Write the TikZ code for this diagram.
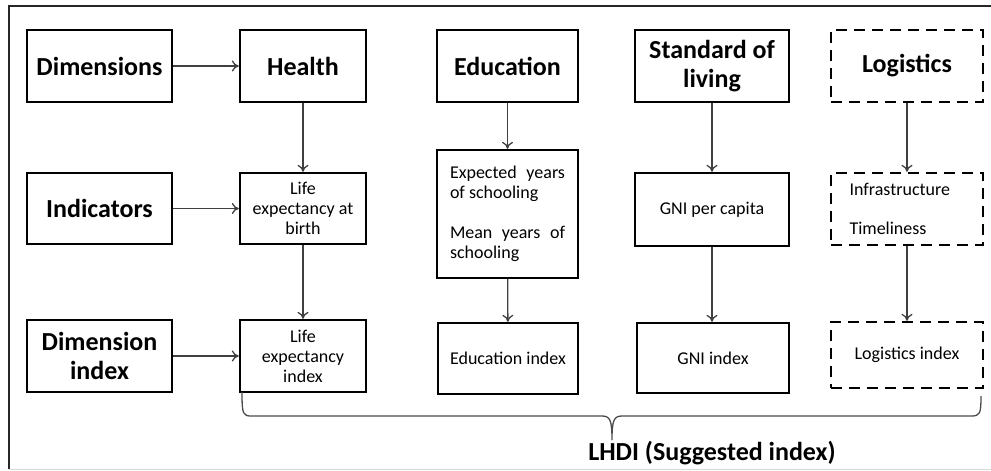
\documentclass[tikz,border=0pt]{standalone}
\usepackage{fontspec}
\setmainfont{Carlito}
\usetikzlibrary{arrows.meta, positioning}

\tikzset{
    head/.style={draw, line width=2.4pt, align=center, inner sep=2pt,
        font=\bfseries\fontsize{26}{28.6}\selectfont},
    cell/.style={draw, line width=2.4pt, align=center, inner sep=2pt,
        font=\fontsize{18}{20}\selectfont},
    dashbox/.style={dash pattern=on 11pt off 7pt},
    link/.style={->, line width=1.3pt, draw=black!75},
}

\begin{document}
\begin{tikzpicture}[x=1pt, y=-1pt, >={To[length=7pt, width=11pt]}]
    \useasboundingbox (0,0) rectangle (991,471);

    % Khung ngoài
    \draw[line width=2pt, black!85] (991,6) -- (9,6) -- (9,469);
    \draw[line width=1pt, black!15] (9,469.5) -- (991,469.5);

    % Hàng 1: các chiều
    \node[head, minimum width=145pt, minimum height=72pt] (dim) at (99.5,66) {Dimensions};
    \node[head, minimum width=126pt, minimum height=72pt] (health) at (303,66) {Health};
    \node[head, minimum width=141pt, minimum height=72pt] (edu) at (507.5,66) {Education};
    \node[head, minimum width=154pt, minimum height=72pt] (living) at (712,66) {Standard of\\living};
    \node[head, dashbox, minimum width=152pt, minimum height=72pt] (logi) at (907,66) {Logistics};

    % Hàng 2: các chỉ số
    \node[head, minimum width=145pt, minimum height=71pt] (ind) at (99.5,208.5) {Indicators};
    \node[cell, minimum width=126pt, minimum height=71pt] (lifeb) at (303,208.5) {Life\\expectancy at\\birth};
    \node[cell, minimum width=141pt, minimum height=128pt, text width=115pt, align=justify] (school) at (507.5,214)
        {Expected years of schooling\par\vspace{20pt}Mean years of schooling};
    \node[cell, minimum width=154pt, minimum height=73pt] (gnip) at (712,209.5) {GNI per capita};
    \node[cell, dashbox, minimum width=152pt, minimum height=72pt, text width=115pt, align=left] (infra) at (907,209)
        {Infrastructure\\[19pt]Timeliness};

    % Hàng 3: chỉ số thành phần
    \node[head, minimum width=145pt, minimum height=72pt] (dimi) at (99.5,356) {Dimension\\index};
    \node[cell, minimum width=126pt, minimum height=72pt] (lifei) at (303,356) {Life\\expectancy\\index};
    \node[cell, minimum width=140pt, minimum height=71pt] (edui) at (508,358.5) {Education index};
    \node[cell, minimum width=152pt, minimum height=70pt] (gnii) at (713,358) {GNI index};
    \node[cell, dashbox, minimum width=152pt, minimum height=66pt] (logii) at (907,355) {Logistics index};

    % Mũi tên
    \draw[link] (dim) -- (health);
    \draw[link] (ind) -- (lifeb);
    \draw[link] (dimi.east) -- (lifei.west |- dimi.east);
    \draw[link] (health) -- (lifeb);
    \draw[link] (lifeb) -- (lifei);
    \draw[link] (edu) -- (school);
    \draw[link] (school) -- (edui);
    \draw[link] (living) -- (gnip);
    \draw[link] (gnip) -- (gnip.south |- gnii.north);
    \draw[link] (logi) -- (infra);
    \draw[link] (infra) -- (logii);

    % Ngoặc gộp
    \coordinate (bl) at (242,392);
    \coordinate (bt) at (612,440);
    \coordinate (br) at (981,396);
    \draw[line width=1.3pt, black!70]
        (bl) .. controls (242,415) and (243,416) .. (252,416) -- (602,416)
        .. controls (610,416) and (612,420) .. (bt)
        .. controls (612,420) and (614,416) .. (622,416) -- (971,416)
        .. controls (980,416) and (981,414) .. (br);
    \node[font=\bfseries\fontsize{26}{28.6}\selectfont, anchor=base] (lhdi) at (712,460) {LHDI (Suggested index)};
\end{tikzpicture}
\end{document}
